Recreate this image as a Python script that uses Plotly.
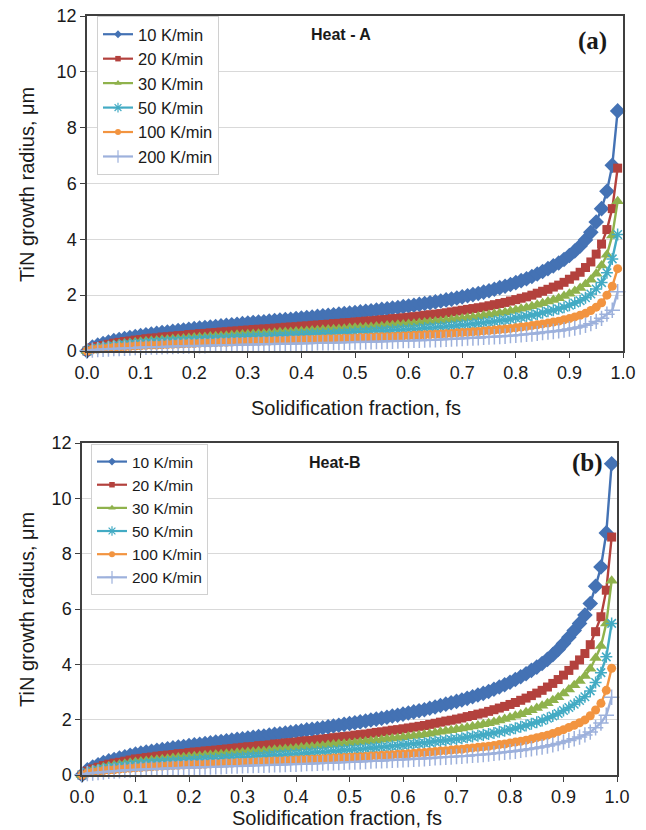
import plotly.graph_objects as go

# Solidification fraction (x values, same for every series)
fs = [0.00, 0.01, 0.02, 0.03, 0.04, 0.05, 0.06, 0.07, 0.08, 0.09,
      0.10, 0.11, 0.12, 0.13, 0.14, 0.15, 0.16, 0.17, 0.18, 0.19,
      0.20, 0.21, 0.22, 0.23, 0.24, 0.25, 0.26, 0.27, 0.28, 0.29,
      0.30, 0.31, 0.32, 0.33, 0.34, 0.35, 0.36, 0.37, 0.38, 0.39,
      0.40, 0.41, 0.42, 0.43, 0.44, 0.45, 0.46, 0.47, 0.48, 0.49,
      0.50, 0.51, 0.52, 0.53, 0.54, 0.55, 0.56, 0.57, 0.58, 0.59,
      0.60, 0.61, 0.62, 0.63, 0.64, 0.65, 0.66, 0.67, 0.68, 0.69,
      0.70, 0.71, 0.72, 0.73, 0.74, 0.75, 0.76, 0.77, 0.78, 0.79,
      0.80, 0.81, 0.82, 0.83, 0.84, 0.85, 0.86, 0.87, 0.88, 0.89,
      0.90, 0.91, 0.92, 0.93, 0.94, 0.95, 0.96, 0.97, 0.98, 0.99]

series_names = ["10 K/min", "20 K/min", "30 K/min", "50 K/min", "100 K/min", "200 K/min"]

# ---------------- Heat - A ----------------
a_10 = [0.00, 0.14, 0.21, 0.27, 0.32, 0.37, 0.41, 0.45, 0.48, 0.52, 0.55,
        0.58, 0.61, 0.63, 0.66, 0.68, 0.71, 0.73, 0.75, 0.78, 0.80,
        0.82, 0.84, 0.86, 0.88, 0.90, 0.92, 0.94, 0.96, 0.98, 1.00,
        1.02, 1.04, 1.05, 1.07, 1.09, 1.11, 1.13, 1.14, 1.16, 1.18,
        1.20, 1.22, 1.24, 1.26, 1.28, 1.30, 1.32, 1.34, 1.36, 1.38,
        1.40, 1.42, 1.44, 1.47, 1.49, 1.51, 1.54, 1.56, 1.59, 1.61,
        1.64, 1.67, 1.70, 1.73, 1.76, 1.79, 1.83, 1.86, 1.90, 1.94,
        1.98, 2.02, 2.06, 2.11, 2.16, 2.21, 2.27, 2.32, 2.38, 2.45,
        2.52, 2.59, 2.67, 2.76, 2.85, 2.95, 3.05, 3.15, 3.28, 3.42,
        3.58, 3.76, 3.98, 4.25, 4.62, 5.10, 5.72, 6.65, 8.60]
a_20 = [0.00, 0.11, 0.16, 0.20, 0.24, 0.28, 0.31, 0.34, 0.36, 0.39, 0.41,
        0.44, 0.46, 0.47, 0.50, 0.51, 0.53, 0.55, 0.56, 0.59, 0.60,
        0.62, 0.63, 0.65, 0.66, 0.68, 0.69, 0.71, 0.72, 0.74, 0.75,
        0.77, 0.78, 0.79, 0.80, 0.82, 0.83, 0.85, 0.86, 0.87, 0.89,
        0.90, 0.92, 0.93, 0.95, 0.96, 0.98, 0.99, 1.01, 1.02, 1.04,
        1.05, 1.07, 1.08, 1.10, 1.12, 1.13, 1.16, 1.17, 1.19, 1.21,
        1.23, 1.25, 1.28, 1.30, 1.32, 1.34, 1.37, 1.40, 1.43, 1.46,
        1.49, 1.52, 1.55, 1.58, 1.62, 1.66, 1.70, 1.74, 1.79, 1.84,
        1.89, 1.94, 2.00, 2.07, 2.14, 2.21, 2.29, 2.36, 2.46, 2.57,
        2.69, 2.82, 2.99, 3.19, 3.47, 3.83, 4.35, 5.10, 6.55]
a_30 = [0.00, 0.08, 0.13, 0.16, 0.19, 0.22, 0.25, 0.27, 0.29, 0.31, 0.33,
        0.35, 0.37, 0.38, 0.40, 0.41, 0.43, 0.44, 0.45, 0.47, 0.48,
        0.49, 0.50, 0.52, 0.53, 0.54, 0.55, 0.56, 0.58, 0.59, 0.60,
        0.61, 0.62, 0.63, 0.64, 0.65, 0.67, 0.68, 0.68, 0.70, 0.71,
        0.72, 0.73, 0.74, 0.76, 0.77, 0.78, 0.79, 0.80, 0.82, 0.83,
        0.84, 0.85, 0.86, 0.88, 0.89, 0.91, 0.92, 0.94, 0.95, 0.97,
        0.98, 1.00, 1.02, 1.04, 1.06, 1.07, 1.10, 1.12, 1.14, 1.16,
        1.19, 1.21, 1.24, 1.27, 1.30, 1.33, 1.36, 1.39, 1.43, 1.47,
        1.51, 1.55, 1.60, 1.66, 1.71, 1.77, 1.83, 1.89, 1.97, 2.05,
        2.15, 2.26, 2.39, 2.55, 2.77, 3.06, 3.45, 4.14, 5.36]
a_50 = [0.00, 0.07, 0.10, 0.13, 0.15, 0.18, 0.20, 0.22, 0.23, 0.25, 0.26,
        0.28, 0.29, 0.30, 0.32, 0.33, 0.34, 0.35, 0.36, 0.37, 0.38,
        0.39, 0.40, 0.41, 0.42, 0.43, 0.44, 0.45, 0.46, 0.47, 0.48,
        0.49, 0.50, 0.50, 0.51, 0.52, 0.53, 0.54, 0.55, 0.56, 0.57,
        0.58, 0.59, 0.60, 0.60, 0.61, 0.62, 0.63, 0.64, 0.65, 0.66,
        0.67, 0.68, 0.69, 0.71, 0.72, 0.72, 0.74, 0.75, 0.76, 0.77,
        0.79, 0.80, 0.82, 0.83, 0.84, 0.86, 0.88, 0.89, 0.91, 0.93,
        0.95, 0.97, 0.99, 1.01, 1.04, 1.06, 1.09, 1.11, 1.14, 1.18,
        1.21, 1.24, 1.28, 1.32, 1.37, 1.42, 1.46, 1.51, 1.57, 1.64,
        1.72, 1.80, 1.91, 2.04, 2.22, 2.45, 2.80, 3.30, 4.17]
a_100 = [0.00, 0.05, 0.07, 0.09, 0.11, 0.13, 0.14, 0.15, 0.16, 0.18, 0.19,
         0.20, 0.21, 0.21, 0.22, 0.23, 0.24, 0.25, 0.26, 0.27, 0.27,
         0.28, 0.29, 0.29, 0.30, 0.31, 0.31, 0.32, 0.33, 0.33, 0.34,
         0.35, 0.35, 0.36, 0.36, 0.37, 0.38, 0.38, 0.39, 0.39, 0.40,
         0.41, 0.41, 0.42, 0.43, 0.44, 0.44, 0.45, 0.46, 0.46, 0.47,
         0.48, 0.48, 0.49, 0.50, 0.51, 0.51, 0.52, 0.53, 0.54, 0.55,
         0.56, 0.57, 0.58, 0.59, 0.60, 0.61, 0.62, 0.63, 0.65, 0.66,
         0.67, 0.69, 0.70, 0.72, 0.73, 0.75, 0.77, 0.79, 0.81, 0.83,
         0.86, 0.88, 0.91, 0.94, 0.97, 1.00, 1.04, 1.07, 1.12, 1.16,
         1.22, 1.28, 1.35, 1.45, 1.57, 1.73, 2.00, 2.32, 2.95]
a_200 = [0.00, 0.03, 0.05, 0.06, 0.07, 0.09, 0.09, 0.10, 0.11, 0.12, 0.13,
         0.13, 0.14, 0.14, 0.15, 0.16, 0.16, 0.17, 0.17, 0.18, 0.18,
         0.19, 0.19, 0.20, 0.20, 0.21, 0.21, 0.22, 0.22, 0.23, 0.23,
         0.23, 0.24, 0.24, 0.25, 0.25, 0.26, 0.26, 0.26, 0.27, 0.27,
         0.28, 0.28, 0.29, 0.29, 0.29, 0.30, 0.30, 0.31, 0.31, 0.32,
         0.32, 0.33, 0.33, 0.34, 0.34, 0.35, 0.35, 0.36, 0.37, 0.37,
         0.38, 0.38, 0.39, 0.40, 0.40, 0.41, 0.42, 0.43, 0.44, 0.45,
         0.46, 0.46, 0.47, 0.49, 0.50, 0.51, 0.52, 0.53, 0.55, 0.56,
         0.58, 0.60, 0.61, 0.63, 0.66, 0.68, 0.70, 0.72, 0.75, 0.79,
         0.82, 0.86, 0.92, 0.98, 1.06, 1.17, 1.32, 1.46, 2.12]

# ---------------- Heat - B ----------------
b_10 = [0.00, 0.19, 0.29, 0.37, 0.45, 0.51, 0.56, 0.61, 0.66, 0.71, 0.76,
        0.79, 0.83, 0.86, 0.89, 0.92, 0.95, 0.98, 1.01, 1.03, 1.06,
        1.09, 1.11, 1.14, 1.16, 1.19, 1.21, 1.24, 1.26, 1.29, 1.31,
        1.34, 1.36, 1.39, 1.41, 1.44, 1.47, 1.49, 1.52, 1.54, 1.57,
        1.60, 1.63, 1.65, 1.68, 1.71, 1.74, 1.77, 1.80, 1.83, 1.86,
        1.89, 1.92, 1.95, 1.99, 2.02, 2.05, 2.09, 2.13, 2.16, 2.20,
        2.24, 2.28, 2.32, 2.36, 2.41, 2.46, 2.51, 2.56, 2.61, 2.66,
        2.71, 2.77, 2.83, 2.89, 2.95, 3.02, 3.10, 3.18, 3.26, 3.35,
        3.45, 3.55, 3.66, 3.78, 3.90, 4.03, 4.18, 4.35, 4.54, 4.75,
        4.98, 5.22, 5.48, 5.78, 6.20, 6.82, 7.52, 8.75, 11.25]
b_20 = [0.00, 0.14, 0.22, 0.28, 0.34, 0.39, 0.43, 0.46, 0.50, 0.54, 0.58,
        0.60, 0.63, 0.65, 0.68, 0.70, 0.72, 0.74, 0.77, 0.78, 0.81,
        0.83, 0.84, 0.87, 0.88, 0.90, 0.92, 0.94, 0.96, 0.98, 1.00,
        1.02, 1.03, 1.06, 1.07, 1.09, 1.12, 1.13, 1.16, 1.17, 1.19,
        1.22, 1.24, 1.25, 1.28, 1.30, 1.32, 1.35, 1.37, 1.39, 1.41,
        1.44, 1.46, 1.48, 1.51, 1.54, 1.56, 1.59, 1.62, 1.64, 1.67,
        1.70, 1.73, 1.76, 1.79, 1.83, 1.87, 1.91, 1.95, 1.98, 2.02,
        2.06, 2.11, 2.15, 2.20, 2.24, 2.30, 2.36, 2.42, 2.48, 2.55,
        2.62, 2.70, 2.78, 2.87, 2.96, 3.06, 3.18, 3.31, 3.45, 3.61,
        3.78, 3.97, 4.16, 4.39, 4.71, 5.18, 5.72, 6.68, 8.60]
b_30 = [0.00, 0.12, 0.18, 0.23, 0.28, 0.32, 0.35, 0.38, 0.41, 0.44, 0.47,
        0.49, 0.51, 0.53, 0.55, 0.57, 0.59, 0.61, 0.63, 0.64, 0.66,
        0.68, 0.69, 0.71, 0.72, 0.74, 0.75, 0.77, 0.78, 0.80, 0.81,
        0.83, 0.84, 0.86, 0.87, 0.89, 0.91, 0.92, 0.94, 0.95, 0.97,
        0.99, 1.01, 1.02, 1.04, 1.06, 1.08, 1.10, 1.12, 1.13, 1.15,
        1.17, 1.19, 1.21, 1.23, 1.25, 1.27, 1.30, 1.32, 1.34, 1.36,
        1.39, 1.41, 1.44, 1.46, 1.49, 1.53, 1.56, 1.59, 1.62, 1.65,
        1.68, 1.72, 1.75, 1.79, 1.83, 1.87, 1.92, 1.97, 2.02, 2.08,
        2.14, 2.20, 2.27, 2.34, 2.42, 2.50, 2.59, 2.70, 2.81, 2.95,
        3.09, 3.24, 3.40, 3.58, 3.84, 4.23, 4.66, 5.48, 7.02]
b_50 = [0.00, 0.09, 0.14, 0.18, 0.22, 0.25, 0.27, 0.30, 0.32, 0.35, 0.37,
        0.39, 0.41, 0.42, 0.44, 0.45, 0.47, 0.48, 0.49, 0.50, 0.52,
        0.53, 0.54, 0.56, 0.57, 0.58, 0.59, 0.61, 0.62, 0.63, 0.64,
        0.66, 0.67, 0.68, 0.69, 0.71, 0.72, 0.73, 0.74, 0.75, 0.77,
        0.78, 0.80, 0.81, 0.82, 0.84, 0.85, 0.87, 0.88, 0.90, 0.91,
        0.93, 0.94, 0.96, 0.98, 0.99, 1.00, 1.02, 1.04, 1.06, 1.08,
        1.10, 1.12, 1.14, 1.16, 1.18, 1.21, 1.23, 1.25, 1.28, 1.30,
        1.33, 1.36, 1.39, 1.42, 1.45, 1.48, 1.52, 1.56, 1.60, 1.64,
        1.69, 1.74, 1.79, 1.85, 1.91, 1.97, 2.05, 2.13, 2.22, 2.33,
        2.44, 2.56, 2.69, 2.83, 3.04, 3.34, 3.70, 4.27, 5.48]
b_100 = [0.00, 0.07, 0.10, 0.13, 0.16, 0.18, 0.19, 0.21, 0.23, 0.24, 0.26,
         0.27, 0.29, 0.30, 0.31, 0.32, 0.33, 0.34, 0.35, 0.36, 0.37,
         0.38, 0.38, 0.39, 0.40, 0.41, 0.42, 0.43, 0.43, 0.45, 0.45,
         0.46, 0.47, 0.48, 0.49, 0.50, 0.51, 0.51, 0.52, 0.53, 0.54,
         0.55, 0.56, 0.57, 0.58, 0.59, 0.60, 0.61, 0.62, 0.63, 0.64,
         0.65, 0.66, 0.67, 0.69, 0.70, 0.71, 0.72, 0.73, 0.75, 0.76,
         0.77, 0.79, 0.80, 0.81, 0.83, 0.85, 0.87, 0.88, 0.90, 0.92,
         0.93, 0.96, 0.98, 1.00, 1.02, 1.04, 1.07, 1.10, 1.12, 1.16,
         1.19, 1.22, 1.26, 1.30, 1.35, 1.39, 1.44, 1.50, 1.57, 1.64,
         1.72, 1.80, 1.89, 1.99, 2.14, 2.35, 2.59, 3.06, 3.86]
b_200 = [0.00, 0.05, 0.07, 0.09, 0.11, 0.13, 0.14, 0.15, 0.17, 0.18, 0.19,
         0.20, 0.21, 0.22, 0.22, 0.23, 0.24, 0.25, 0.25, 0.26, 0.27,
         0.27, 0.28, 0.29, 0.29, 0.30, 0.30, 0.31, 0.32, 0.32, 0.33,
         0.34, 0.34, 0.35, 0.35, 0.36, 0.37, 0.37, 0.38, 0.39, 0.39,
         0.40, 0.41, 0.41, 0.42, 0.43, 0.44, 0.44, 0.45, 0.46, 0.47,
         0.47, 0.48, 0.49, 0.50, 0.51, 0.51, 0.52, 0.53, 0.54, 0.55,
         0.56, 0.57, 0.58, 0.59, 0.60, 0.62, 0.63, 0.64, 0.65, 0.67,
         0.68, 0.69, 0.71, 0.72, 0.74, 0.76, 0.78, 0.80, 0.82, 0.84,
         0.86, 0.89, 0.92, 0.95, 0.98, 1.01, 1.05, 1.09, 1.14, 1.19,
         1.25, 1.31, 1.37, 1.45, 1.55, 1.71, 1.88, 2.16, 2.81]

y_ticks = [0, 2, 4, 6, 8, 10, 12]
x_ticks = [0.0, 0.1, 0.2, 0.3, 0.4, 0.5, 0.6, 0.7, 0.8, 0.9, 1.0]

colors = ["#4472B4", "#B3413D", "#8FB24C", "#43ABC4", "#F29440", "#9DB1DC"]
symbols = ["diamond", "square", "triangle-up", "asterisk-open", "circle", "cross-thin-open"]
sizes = [12, 9, 11, 10, 9, 11]
legend_sizes = [6, 5.5, 6.5, 8, 6, 9]

panel_a = [a_10, a_20, a_30, a_50, a_100, a_200]
panel_b = [b_10, b_20, b_30, b_50, b_100, b_200]

fig = go.Figure()
for panel, xa, ya, lg in [(panel_a, "x", "y", "legend"), (panel_b, "x2", "y2", "legend2")]:
    for i, vals in enumerate(panel):
        open_sym = symbols[i].endswith("open")
        fig.add_trace(go.Scatter(
            x=fs, y=vals, name=series_names[i], mode="lines+markers",
            xaxis=xa, yaxis=ya, showlegend=False, cliponaxis=False,
            line=dict(color=colors[i], width=2.4),
            marker=dict(symbol=symbols[i], size=sizes[i], color=colors[i],
                        line=dict(color=colors[i], width=1.5 if open_sym else 0)),
        ))
    # legend entries (smaller symbols, as in the original legend)
    for i in range(len(series_names)):
        open_sym = symbols[i].endswith("open")
        fig.add_trace(go.Scatter(
            x=[None], y=[None], name=series_names[i], mode="lines+markers",
            xaxis=xa, yaxis=ya, legend=lg, showlegend=True,
            line=dict(color=colors[i], width=2.2),
            marker=dict(symbol=symbols[i], size=legend_sizes[i], color=colors[i],
                        line=dict(color=colors[i], width=1.2 if open_sym else 0)),
        ))

W, H = 646, 830
font_family = "Liberation Sans, Arial, sans-serif"

def xdom(l, r):
    return [l / W, r / W]

def ydom(top, bottom):
    return [1 - bottom / H, 1 - top / H]

axis_common = dict(showline=True, mirror=True, linecolor="#3F3F3F", linewidth=1.5,
                   ticks="outside", ticklen=5, tickcolor="#3F3F3F", tickwidth=1,
                   tickfont=dict(family=font_family, size=18, color="#1a1a1a"),
                   zeroline=False, automargin=False)

def legend_common(size):
    return dict(xanchor="left", yanchor="top", bgcolor="white",
                bordercolor="#D0D0D0", borderwidth=1,
                font=dict(family=font_family, size=size, color="#1a1a1a"),
                tracegroupgap=0, itemwidth=30)

fig.update_layout(
    template="none",
    width=W, height=H, margin=dict(l=0, r=0, t=0, b=0, pad=0, autoexpand=False),
    paper_bgcolor="white", plot_bgcolor="white",
    font=dict(family=font_family, color="#1a1a1a"),
    xaxis=dict(domain=xdom(87, 623), range=[0, 1], tickvals=x_ticks, tickformat=".1f",
               showgrid=False, anchor="y", **axis_common),
    yaxis=dict(domain=ydom(16, 351), range=[0, 12], tickvals=y_ticks,
               showgrid=True, gridcolor="#D9D9D9", gridwidth=1, anchor="x", **axis_common),
    xaxis2=dict(domain=xdom(82, 617), range=[0, 1], tickvals=x_ticks, tickformat=".1f",
                showgrid=False, anchor="y2", **axis_common),
    yaxis2=dict(domain=ydom(443, 775), range=[0, 12], tickvals=y_ticks,
                showgrid=True, gridcolor="#D9D9D9", gridwidth=1, anchor="x2", **axis_common),
    legend=dict(x=97 / W, y=1 - 16 / H, **legend_common(16.5)),
    legend2=dict(x=91 / W, y=1 - 444 / H, **legend_common(15.5)),
    showlegend=True,
)

ann = []
def text_ann(x, y, text, size, family=font_family, angle=0):
    ann.append(dict(x=x / W, y=1 - y / H, xref="paper", yref="paper", text=text,
                    showarrow=False, xanchor="center", yanchor="middle", textangle=angle,
                    font=dict(family=family, size=size, color="#1a1a1a")))

serif = "Liberation Serif, Times New Roman, serif"
text_ann(341, 35, "<b>Heat - A</b>", 16)
text_ann(592, 41, "<b>(a)</b>", 25, family=serif)
text_ann(335, 462, "<b>Heat-B</b>", 16)
text_ann(587, 463, "<b>(b)</b>", 25, family=serif)
text_ann(27, 185, "TiN growth radius, μm", 20, angle=-90)
text_ann(27, 610, "TiN growth radius, μm", 20, angle=-90)
text_ann(356, 408, "Solidification fraction, fs", 20)
text_ann(337, 818, "Solidification fraction, fs", 20)
fig.update_layout(annotations=ann)

fig.write_html("out.html")
